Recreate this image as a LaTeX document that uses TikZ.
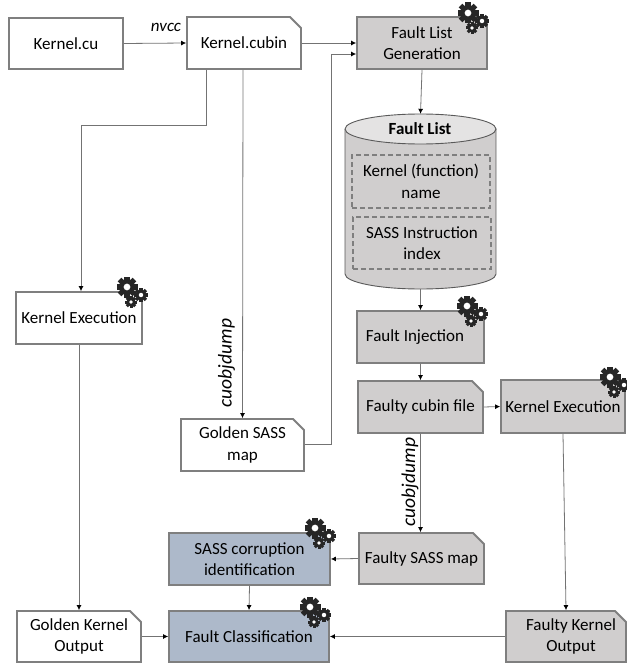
\documentclass[tikz,border=0pt]{standalone}
\usepackage{fontspec}
\setmainfont{Carlito}
\usetikzlibrary{shapes.geometric,shapes.misc,arrows.meta}
\definecolor{edgegray}{HTML}{7F7F7F}
\definecolor{boxgray}{HTML}{D0CECE}
\definecolor{topgray}{HTML}{E4E3E3}
\definecolor{boxblue}{HTML}{ADB9CA}
\definecolor{geardark}{HTML}{262626}
\tikzset{
  x=1pt,y=-1pt,
  every node/.style={font=\fontsize{17}{21.5}\selectfont,text=black,align=center,inner sep=0pt},
  plainbox/.style={draw=edgegray,line width=1.8pt,fill=white},
  graybox/.style={plainbox,fill=boxgray},
  bluebox/.style={plainbox,fill=boxblue},
  docbox/.style={chamfered rectangle,chamfered rectangle corners=north east,chamfered rectangle xsep=5.5pt,chamfered rectangle ysep=5.5pt},
  dashbox/.style={draw=edgegray,line width=1.4pt,dash pattern=on 5pt off 3pt},
  link/.style={draw=black!55,line width=0.8pt,-{Latex[length=5pt,width=5pt,black]}},
  steplabel/.style={font=\fontsize{19.5}{22}\selectfont\itshape},
  pics/gearset/.style={code={
    \foreach \cx/\cy/\rr in {0/0/10.5,14/8/7,4/15/6}{
      \fill[geardark] (\cx,\cy) circle[radius=0.76*\rr];
      \foreach \a in {0,45,...,315}
        \draw[geardark,line width=0.5*\rr pt] ([shift={(\cx,\cy)}]\a:0.6*\rr) -- ([shift={(\cx,\cy)}]\a:\rr);
      \fill[white] (\cx,\cy) circle[radius=0.32*\rr];
    }
  }}
}
\begin{document}
\begin{tikzpicture}
\useasboundingbox (0,0) rectangle (626,666);
% top row
\node[plainbox,minimum width=114,minimum height=51] (cu) at (66,43.5) {Kernel.cu};
\node[plainbox,docbox,minimum width=114,minimum height=52] (cubin) at (244,43) {Kernel.cubin};
\node[graybox,minimum width=130,minimum height=52] (flg) at (422,43) {Fault List\\Generation};
% cylinder
\fill[boxgray] (345,129) rectangle (496,274);
\fill[boxgray] (420.5,274) ellipse[x radius=75.5pt,y radius=15pt];
\draw[black!65,line width=0.9pt] (345,129) -- (345,274) arc[start angle=180,end angle=360,x radius=75.5pt,y radius=15pt] -- (496,129);
\draw[black!65,line width=0.9pt,fill=topgray] (420.5,129) ellipse[x radius=75.5pt,y radius=15pt];
\node[minimum width=151,minimum height=175] (list) at (420.5,201.5) {};
\node[font=\fontsize{17}{21.5}\selectfont\bfseries] (listt) at (420,129) {Fault List};
\node[dashbox,minimum width=138,minimum height=53] (fn) at (421,181.5) {Kernel (function)\\name};
\node[dashbox,minimum width=138,minimum height=52] (idx) at (422,243) {SASS Instruction\\index};
% middle right
\node[graybox,minimum width=127,minimum height=52] (inj) at (420.5,337) {Fault Injection\hspace{11pt}};
\node[graybox,docbox,minimum width=125,minimum height=52] (fcubin) at (420.5,407) {Faulty cubin file};
\node[graybox,minimum width=124,minimum height=53] (kex) at (563,406.5) {Kernel Execution};
\node[graybox,docbox,minimum width=125,minimum height=51] (fsass) at (421.5,558.5) {Faulty SASS map};
\node[graybox,docbox,minimum width=120,minimum height=51] (fko) at (566,636.5) {\hspace*{10pt}Faulty Kernel\\\hspace*{10pt}Output};
% left
\node[plainbox,minimum width=126,minimum height=52] (gex) at (79,318) {Kernel Execution};
\node[plainbox,docbox,minimum width=123,minimum height=52] (gsass) at (242.5,445) {Golden SASS\\map};
\node[plainbox,docbox,minimum width=124,minimum height=51] (gko) at (79,636.5) {Golden Kernel\\Output};
\node[bluebox,minimum width=161,minimum height=52] (corr) at (249.5,559) {SASS corruption\\identification};
\node[bluebox,minimum width=160,minimum height=51] (fc) at (249,636.5) {Fault Classification};
% named turning points
\coordinate (c1) at (206,125);
\coordinate (c2) at (81,125);
\coordinate (c3) at (331,444);
\coordinate (c4) at (331,54);
% connectors
\draw[link] (cu.east) -- (cubin.west);
\node[font=\fontsize{17}{20}\selectfont\itshape] (nvcc) at (166,27) {nvcc};
\draw[link] (cubin.east) -- (flg.west);
\draw[link] (cubin.south -| c1) -- (c1) -- (c2) -- (c2 |- gex.north);
\draw[link] ([xshift=-1pt]cubin.south) -- (gsass.north);
\node[rotate=90,steplabel] (dump1) at (226.5,363) {cuobjdump};
\draw[link] (gsass.east |- c3) -- (c3) -- (c4) -- (c4 -| flg.west);
\draw[link] (flg.south) -- (list.north);
\draw[link] (list.south) -- (inj.north);
\draw[link] (inj.south) -- (fcubin.north);
\draw[link] (fcubin.east) -- (kex.west);
\draw[link] (fcubin.south) -- (fsass.north -| fcubin.south);
\node[rotate=90,steplabel] (dump2) at (410,482) {cuobjdump};
\draw[link] (kex.south) -- (fko.north);
\draw[link] (fsass.west) -- (corr.east);
\draw[link] (corr.south) -- (fc.north);
\draw[link] (gko.east) -- (fc.west);
\draw[link] (fko.west) -- (fc.east);
\draw[link] (gex.south) -- (gko.north);
% gears
\pic at (468,13) {gearset};
\pic at (467,306) {gearset};
\pic at (610,377) {gearset};
\pic at (315,528) {gearset};
\pic at (310,607) {gearset};
\pic at (127,287) {gearset};
\end{tikzpicture}
\end{document}
